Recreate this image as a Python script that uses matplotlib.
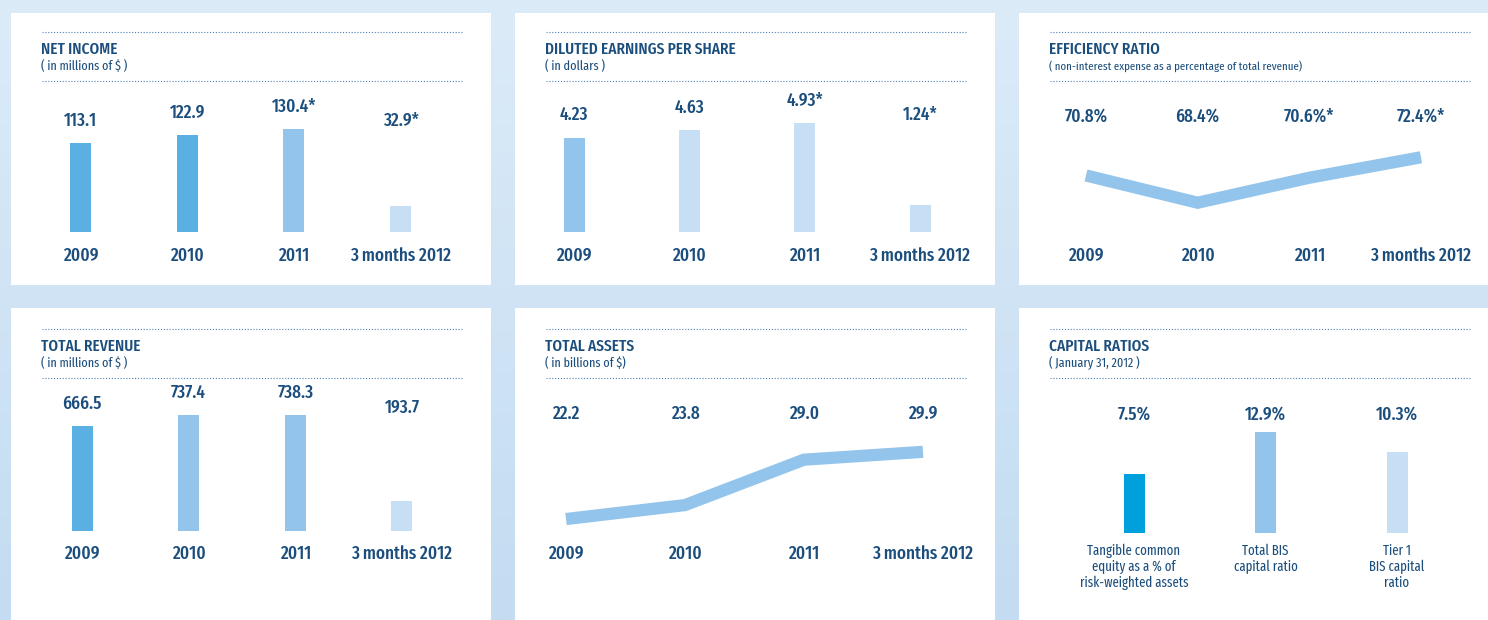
import numpy as np
import matplotlib
matplotlib.use("Agg")
import matplotlib.pyplot as plt
from matplotlib.patches import Rectangle
from matplotlib.colors import LinearSegmentedColormap

plt.rcParams['font.family'] = ['Fira Sans Extra Condensed', 'Liberation Sans', 'DejaVu Sans']

# figure size in pixels
W, H = 1488, 620

NAVY = '#1b4e7d'
DOTS = '#4a7fb5'
MID = '#5aafe3'
LIGHT = '#93c5ec'
PALE = '#c6dff4'
CYAN = '#00a0dc'

# data
periods = ['2009', '2010', '2011', '3 months 2012']
starred = [False, False, True, True]

net_income = [113.1, 122.9, 130.4, 32.9]
eps = [4.23, 4.63, 4.93, 1.24]
efficiency = [70.8, 68.4, 70.6, 72.4]
revenue = [666.5, 737.4, 738.3, 193.7]
assets = [22.2, 23.8, 29.0, 29.9]

capital_names = ['Tangible common\nequity as a % of\nrisk-weighted assets',
                 'Total BIS\ncapital ratio',
                 'Tier 1\nBIS capital\nratio']
capital = [7.5, 12.9, 10.3]

VAL_SIZE = 13.5
CAT_SIZE = 13.5


def fmt(values, pattern, stars=None):
    out = []
    for i, v in enumerate(values):
        s = pattern.format(v)
        if stars and stars[i]:
            s += '*'
        out.append(s)
    return out


fig = plt.figure(figsize=(W / 100, H / 100), dpi=100)

# background + panels drawn in pixel coordinates
bg = fig.add_axes([0, 0, 1, 1])
bg.set_xlim(0, W)
bg.set_ylim(H, 0)
bg.axis('off')
cmap = LinearSegmentedColormap.from_list('bg', ['#dcebf8', '#c3dcf2'])
bg.imshow(np.linspace(0, 1, 256).reshape(-1, 1), cmap=cmap,
          extent=(0, W, H, 0), aspect='auto', zorder=0)


def panel(x0, y0, h, title, subtitle, dy=0, sub_size=9.5):
    bg.add_patch(Rectangle((x0, y0), 480, h, fc='white', ec='none', zorder=1))
    for yy in (y0 + 19 + dy, y0 + 68 + dy):
        bg.plot([x0 + 31, x0 + 451], [yy, yy], color=DOTS, lw=0.8,
                ls=(0, (1, 1.6)), zorder=2)
    bg.text(x0 + 30, y0 + 36 + dy, title, color=NAVY, fontsize=12,
            fontweight=500, va='center', ha='left', zorder=3)
    bg.text(x0 + 30, y0 + 53 + dy, subtitle, color=NAVY, fontsize=sub_size,
            va='center', ha='left', zorder=3)


def chart_axes(first, last, n, top_px, base_px):
    sp = (last - first) / (n - 1)
    left = first - sp / 2
    ax = fig.add_axes([left / W, 1 - base_px / H, n * sp / W, (base_px - top_px) / H])
    ax.set_xlim(-0.5, n - 0.5)
    ax.axis('off')
    return ax, sp


def put(ax, text, x, up_px, **kw):
    ax.annotate(text, (x, 0), xycoords=ax.get_xaxis_transform(),
                xytext=(0, up_px), textcoords='offset pixels',
                ha='center', color=NAVY, annotation_clip=False, **kw)


def bar_chart(first, last, base_px, max_top_px, values, labels, colors,
              cats, cat_px, label_px=None, cat_size=CAT_SIZE, cat_va='center'):
    n = len(values)
    top_px = base_px - 150
    ax, sp = chart_axes(first, last, n, top_px, base_px)
    ymax = max(values) * 150 / (base_px - max_top_px)
    ax.set_ylim(0, ymax)
    x = np.arange(n)
    ax.bar(x, values, width=21 / sp, color=colors, zorder=3)
    for i, (v, lab) in enumerate(zip(values, labels)):
        if label_px is None:
            y = max(v, 0.87 * max(values))
            ax.annotate(lab, (i, y), xytext=(0, 22), textcoords='offset pixels',
                        ha='center', va='center', color=NAVY, fontsize=VAL_SIZE,
                        fontweight=500, annotation_clip=False)
        else:
            put(ax, lab, i, base_px - label_px, va='center', fontsize=VAL_SIZE,
                fontweight=500)
    for i, c in enumerate(cats):
        put(ax, c, i, base_px - cat_px, va=cat_va, fontsize=cat_size,
            fontweight=500 if cat_va == 'center' else 'normal',
            linespacing=1.15)
    return ax


def line_chart(first, last, top_px, base_px, ylim, values, labels, cats,
               label_px, cat_px):
    n = len(values)
    ax, sp = chart_axes(first, last, n, top_px, base_px)
    ax.set_ylim(*ylim)
    ax.plot(np.arange(n), values, color=LIGHT, lw=8.8,
            solid_capstyle='butt', solid_joinstyle='miter', zorder=3)
    for i, lab in enumerate(labels):
        put(ax, lab, i, base_px - label_px, va='center', fontsize=VAL_SIZE,
            fontweight=500)
    for i, c in enumerate(cats):
        put(ax, c, i, base_px - cat_px, va='center', fontsize=CAT_SIZE,
            fontweight=500)
    return ax


# top row
panel(11, 13, 272, 'NET INCOME', '( in millions of $ )')
panel(515, 13, 272, 'DILUTED EARNINGS PER SHARE', '( in dollars )')
panel(1019, 13, 272, 'EFFICIENCY RATIO',
      '( non-interest expense as a percentage of total revenue)', sub_size=8.5)
# bottom row
panel(11, 308, 330, 'TOTAL REVENUE', '( in millions of $ )', dy=2)
panel(515, 308, 330, 'TOTAL ASSETS', '( in billions of $)', dy=2)
panel(1019, 308, 330, 'CAPITAL RATIOS', '( January 31, 2012 )', dy=2)

bar_chart(80.5, 400.5, 232, 129, net_income,
          fmt(net_income, '{:.1f}', starred), [MID, MID, LIGHT, PALE],
          periods, 256)
bar_chart(574, 920, 232, 123, eps,
          fmt(eps, '{:.2f}', starred), [LIGHT, PALE, PALE, PALE],
          periods, 256)
line_chart(1086, 1421, 130, 230, (66.0, 74.8), efficiency,
           fmt(efficiency, '{:.1f}%', starred), periods, 116, 256)

bar_chart(82, 402, 531, 415, revenue,
          fmt(revenue, '{:.1f}'), [MID, LIGHT, LIGHT, PALE],
          periods, 554)
line_chart(566, 923, 430, 540, (19.8, 32.4), assets,
           fmt(assets, '{:.1f}'), periods, 414, 554)
bar_chart(1134, 1397, 533, 432, capital,
          fmt(capital, '{:.1f}%'), [CYAN, LIGHT, PALE],
          capital_names, 544, label_px=414, cat_size=10, cat_va='top')

fig.savefig('out.png', dpi=100)
